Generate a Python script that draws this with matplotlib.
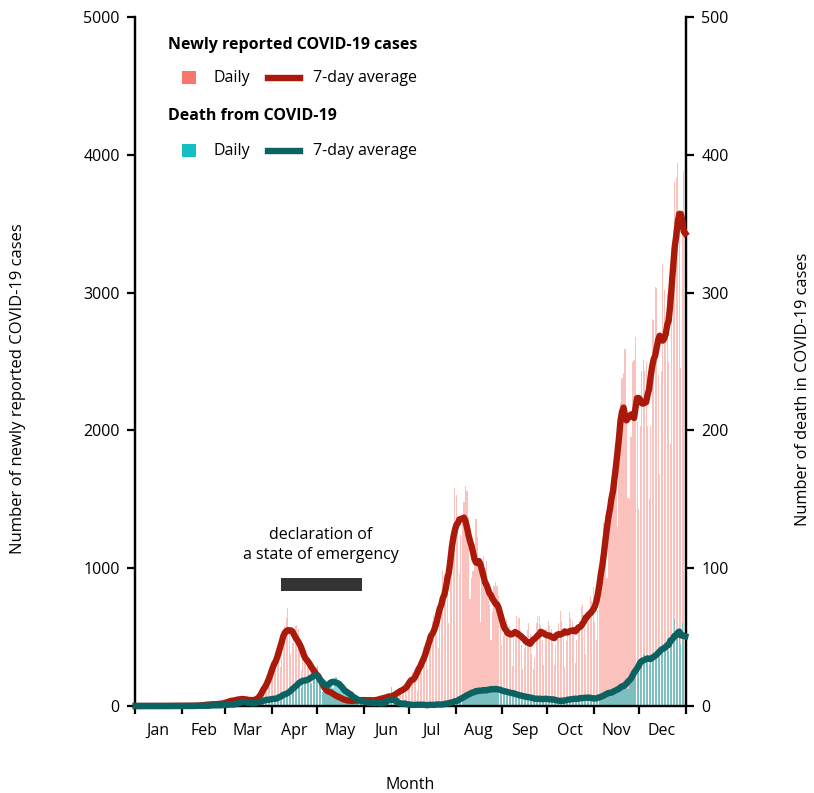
import pandas as pd
import matplotlib
matplotlib.use("Agg")
import matplotlib.pyplot as plt
import matplotlib.dates as mdates
from matplotlib.patches import Rectangle
from matplotlib.lines import Line2D
from matplotlib.ticker import NullFormatter

plt.rcParams['font.family'] = ['Open Sans', 'DejaVu Sans']

# daily newly reported cases, 2020
cases_jan = [0, 0, 0, 0, 0, 0, 0, 0, 0, 0, 0, 0, 0, 0, 0, 1, 0, 0, 0, 0, 0, 0, 1, 1, 0, 2, 1, 2, 1, 3, 2]
cases_feb = [1, 0, 0, 0, 3, 5, 3, 0, 3, 1, 2, 0, 5, 8, 10, 6, 5, 9, 12, 15, 10, 14, 18, 10, 8, 14, 20, 22, 18]
cases_mar = [30, 20, 30, 35, 45, 50, 45, 40, 30, 50, 55, 60, 55, 60, 45, 20, 40, 45, 40, 50, 55, 45, 40, 65, 95,
             120, 160, 200, 190, 140, 220]
cases_apr = [270, 320, 390, 420, 380, 280, 420, 540, 580, 640, 711, 540, 380, 460, 530, 580, 590, 560, 400, 260,
             340, 390, 410, 370, 350, 270, 170, 240, 260, 280]
cases_may = [260, 230, 170, 100, 110, 120, 130, 120, 110, 90, 60, 80, 85, 75, 70, 65, 50, 30, 40, 45, 40, 45, 45,
             30, 25, 35, 40, 50, 50, 45, 40]
cases_jun = [30, 45, 40, 50, 45, 40, 45, 25, 40, 45, 55, 60, 55, 70, 45, 60, 70, 70, 80, 90, 70, 60, 90, 110, 120,
             130, 140, 120, 90, 140]
cases_jul = [160, 195, 250, 270, 210, 110, 210, 300, 360, 430, 390, 400, 270, 400, 540, 620, 660, 660, 510, 420,
             630, 800, 980, 960, 850, 840, 600, 980, 1260, 1300, 1580]
cases_aug = [1530, 1330, 960, 1240, 1360, 1480, 1600, 1560, 1370, 780, 930, 980, 1170, 1360, 1230, 1010, 610, 900,
             1080, 1000, 1050, 910, 730, 480, 680, 870, 900, 870, 800, 600, 440]
cases_sep = [510, 590, 630, 590, 580, 510, 290, 510, 520, 650, 640, 640, 440, 270, 420, 490, 550, 600, 520, 380,
             270, 350, 600, 650, 650, 590, 480, 300, 500, 560]
cases_oct = [620, 580, 560, 460, 300, 440, 510, 600, 690, 620, 490, 280, 470, 560, 680, 640, 620, 540, 310, 480,
             580, 620, 720, 740, 560, 380, 600, 700, 800, 760, 860]
cases_nov = [610, 480, 700, 860, 1050, 1140, 1330, 1170, 930, 1280, 1540, 1660, 1700, 1730, 1700, 1300, 1900, 2200,
             2380, 2420, 2590, 2160, 1510, 1500, 1950, 2500, 2510, 2680, 2060, 1430]
cases_dec = [2030, 2430, 2510, 2430, 2500, 2030, 1500, 2030, 2810, 2800, 3040, 3030, 2400, 1680, 2430, 3210, 3020,
             2830, 2990, 2500, 1900, 2900, 3450, 3800, 3830, 3940, 3500, 2450, 3600, 3880, 3790]

# daily deaths, 2020
deaths_jan = [0, 0, 0, 0, 0, 0, 0, 0, 0, 0, 0, 0, 0, 0, 0, 0, 0, 0, 0, 0, 0, 0, 0, 0, 0, 0, 0, 0, 0, 0, 0]
deaths_feb = [0, 0, 0, 0, 0, 0, 0, 0, 0, 0, 0, 0, 1, 0, 0, 0, 0, 0, 1, 0, 0, 1, 0, 1, 1, 0, 0, 1, 0]
deaths_mar = [1, 2, 1, 0, 1, 2, 1, 0, 2, 3, 4, 3, 2, 4, 3, 2, 1, 2, 3, 1, 2, 3, 2, 3, 4, 5, 3, 4, 6, 4, 6]
deaths_apr = [4, 5, 6, 5, 7, 4, 8, 9, 8, 10, 11, 9, 7, 12, 14, 15, 18, 17, 16, 13, 21, 20, 19, 22, 18, 17, 16, 24,
              26, 23]
deaths_may = [29, 20, 18, 10, 12, 16, 17, 19, 15, 16, 13, 20, 21, 19, 17, 14, 12, 10, 11, 13, 9, 8, 10, 6, 5, 7, 4,
              3, 5, 4, 3]
deaths_jun = [3, 2, 4, 1, 3, 2, 3, 2, 3, 1, 2, 3, 2, 1, 2, 3, 2, 4, 14, 3, 4, 2, 1, 2, 3, 2, 1, 2, 1, 2]
deaths_jul = [1, 0, 1, 1, 0, 1, 1, 2, 1, 0, 1, 1, 0, 1, 0, 1, 2, 1, 1, 0, 1, 2, 1, 1, 2, 1, 2, 3, 3, 2, 4]
deaths_aug = [3, 4, 5, 4, 6, 7, 8, 7, 9, 8, 10, 9, 11, 12, 10, 11, 13, 9, 12, 11, 12, 13, 10, 12, 13, 12, 14, 11,
              13, 12, 10]
deaths_sep = [12, 11, 10, 9, 11, 10, 8, 10, 9, 8, 9, 7, 8, 6, 7, 8, 6, 7, 6, 5, 6, 5, 6, 5, 4, 6, 5, 5, 6, 4]
deaths_oct = [5, 6, 5, 4, 5, 4, 5, 3, 4, 3, 3, 4, 5, 4, 5, 6, 5, 4, 5, 6, 5, 6, 5, 6, 7, 5, 6, 7, 6, 5, 7]
deaths_nov = [5, 4, 5, 6, 7, 8, 9, 8, 7, 9, 10, 11, 12, 10, 9, 11, 13, 14, 15, 16, 17, 14, 12, 19, 22, 24, 23, 26,
              28, 27]
deaths_dec = [30, 33, 37, 38, 35, 31, 30, 34, 37, 34, 38, 40, 37, 35, 40, 45, 42, 46, 45, 40, 42, 48, 47, 63, 50,
              55, 52, 45, 60, 53, 44]

emergency_start = "2020-04-07"
emergency_end = "2020-05-30 12:00"

days = pd.date_range("2020-01-01", "2020-12-31") + pd.Timedelta(hours=12)
cases = pd.Series(cases_jan + cases_feb + cases_mar + cases_apr + cases_may + cases_jun + cases_jul
                  + cases_aug + cases_sep + cases_oct + cases_nov + cases_dec, index=days)
deaths = pd.Series(deaths_jan + deaths_feb + deaths_mar + deaths_apr + deaths_may + deaths_jun + deaths_jul
                   + deaths_aug + deaths_sep + deaths_oct + deaths_nov + deaths_dec, index=days)
cases_avg = cases.rolling(7, center=True, min_periods=1).mean()
deaths_avg = deaths.rolling(7, center=True, min_periods=1).mean()

red_bar = "#F8766D"
red_line = "#AA1A0B"
teal_bar = "#14BEC3"
teal_line = "#0C6261"
fs = 11.5

fig = plt.figure(figsize=(8.14, 7.93), dpi=100)
ax = fig.add_axes([135 / 814, 1 - 706 / 793, 551 / 814, 689 / 793])
ax2 = ax.twinx()

ax.bar(days, cases, width=0.75, color=red_bar, alpha=0.45, linewidth=0)
ax2.bar(days, deaths, width=0.75, color=teal_bar, alpha=0.55, linewidth=0)
ax2.plot(days, cases_avg, color=red_line, lw=4.6, transform=ax.transData, clip_on=False, zorder=3)
ax2.plot(days, deaths_avg, color=teal_line, lw=4.6, clip_on=False, zorder=3.1)

# state of emergency
ax.fill_between([pd.Timestamp(emergency_start), pd.Timestamp(emergency_end)], 835, 929,
                color="#333333", linewidth=0)
ax.text(pd.Timestamp("2020-05-03 14:00"), 1168, "declaration of\na state of emergency",
        ha="center", va="center", fontsize=fs, linespacing=1.35)

ax.set_xlim(pd.Timestamp("2020-01-01"), pd.Timestamp("2021-01-01"))
ax.set_ylim(0, 5000)
ax2.set_ylim(0, 500)
ax.set_yticks(range(0, 5001, 1000))
ax2.set_yticks(range(0, 501, 100))

ax.xaxis.set_major_locator(mdates.MonthLocator())
ax.xaxis.set_major_formatter(NullFormatter())
ax.xaxis.set_minor_locator(mdates.MonthLocator(bymonthday=16))
ax.xaxis.set_minor_formatter(mdates.DateFormatter("%b"))
ax.tick_params(axis="x", which="minor", length=0, pad=12, labelsize=fs)
ax.tick_params(axis="x", which="major", length=6, width=1.6)
ax.tick_params(axis="y", length=6, width=1.6, labelsize=fs, pad=5)
ax2.tick_params(axis="y", length=6, width=1.6, labelsize=fs, pad=5)

for a in (ax, ax2):
    a.spines["top"].set_visible(False)
    for s in ("left", "right", "bottom"):
        a.spines[s].set_linewidth(1.6)

ax.set_ylabel("Number of newly reported COVID-19 cases", fontsize=12, va="center")
ax.yaxis.set_label_coords(-0.212, 0.46)
ax2.set_ylabel("Number of death in COVID-19 cases", fontsize=11.8, rotation=90, va="center")
ax2.yaxis.set_label_coords(1.213, 0.46)
ax.set_xlabel("Month", fontsize=fs, va="center")
ax.xaxis.set_label_coords(0.5, -0.1147)

# legend
tr = ax2.transAxes
ax2.text(0.060, 0.960, "Newly reported COVID-19 cases", transform=tr, fontsize=fs,
         fontweight="bold", va="center")
ax2.text(0.060, 0.857, "Death from COVID-19", transform=tr, fontsize=fs,
         fontweight="bold", va="center")
for yy, bar_c, line_c in ((0.912, red_bar, red_line), (0.806, teal_bar, teal_line)):
    ax2.add_patch(Rectangle((0.086, yy - 0.0097), 0.0245, 0.0195, transform=tr, color=bar_c, lw=0))
    ax2.text(0.1416, yy, "Daily", transform=tr, fontsize=fs, va="center")
    ax2.add_line(Line2D([0.2414, 0.2995], [yy, yy], transform=tr, color=line_c, lw=4.6))
    ax2.text(0.323, yy, "7-day average", transform=tr, fontsize=fs, va="center")

fig.savefig("out.png", dpi=100)
